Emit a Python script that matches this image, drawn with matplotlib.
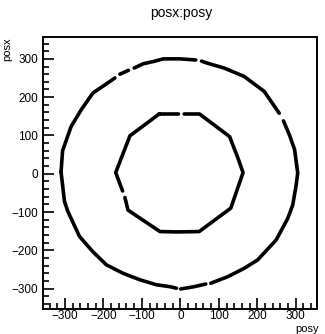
import numpy as np
import matplotlib.pyplot as plt
from matplotlib.ticker import MultipleLocator

plt.rcParams['font.family'] = ['Liberation Sans', 'DejaVu Sans']

nan = np.nan

# outer ring (posy, posx) traced clockwise, nan marks a gap in the hits
outer_y = [-310, -306, -284, -257, -227, -196, -170, nan, -157, -135, nan,
           -120, -97, -70, -44, -1, 40, nan, 55, 66, 114, 166, 218, 257, nan,
           268, 284, 297, 305, 301, 292, 279, 249, 201, 166, 123, 79, nan,
           66, 36, 1, nan, -10, -27, -62, -105, -149, -192, -227, -262, -292,
           -301, -310]
outer_x = [5, 60, 123, 168, 211, 232, 250, nan, 260, 270, nan,
           276, 287, 293, 300, 300, 297, nan, 294, 290, 276, 254, 215, 158, nan,
           138, 100, 63, 2, -30, -82, -117, -173, -225, -247, -269, -286, nan,
           -288, -295, -301, nan, -299, -295, -290, -277, -260, -238, -204, -164,
           -99, -73, 5]

# inner ring
inner_y = [-55, -5, nan, 10, 50, 128, 150, 163, 149, 131, 49, -8, -53,
           -136, -144, nan, -150, -168, -131, -55]
inner_x = [156, 156, nan, 156, 156, 97, 40, 3, -38, -90, -151, -152, -151,
           -95, -62, nan, -45, 3, 99, 156]

fig = plt.figure(figsize=(3.25, 3.34), dpi=100)
ax = fig.add_axes([0.131, 0.0763, 0.843, 0.814])

for xs, ys in [(outer_y, outer_x), (inner_y, inner_x)]:
    ax.plot(xs, ys, color='black', lw=2.6, solid_capstyle='round',
            solid_joinstyle='round')

ax.set_xlim(-358, 354)
ax.set_ylim(-352, 358)

ax.xaxis.set_major_locator(MultipleLocator(100))
ax.xaxis.set_minor_locator(MultipleLocator(20))
ax.yaxis.set_major_locator(MultipleLocator(100))
ax.yaxis.set_minor_locator(MultipleLocator(20))
ax.tick_params(which='both', direction='in', top=False, right=False,
               labelsize=8.5, width=1.2)
ax.tick_params(axis='x', pad=1)
ax.tick_params(axis='y', pad=3)
ax.tick_params(which='major', length=8)
ax.tick_params(which='minor', length=4)
for sp in ax.spines.values():
    sp.set_linewidth(1.4)

fig.text(0.557, 0.962, 'posx:posy', ha='center', va='center', fontsize=10)
fig.text(0.982, 0.0, 'posy', ha='right', va='bottom', fontsize=8)
fig.text(0.008, 0.889, 'posx', ha='left', va='top', rotation=90, fontsize=8)

fig.savefig('out.png', dpi=100)
